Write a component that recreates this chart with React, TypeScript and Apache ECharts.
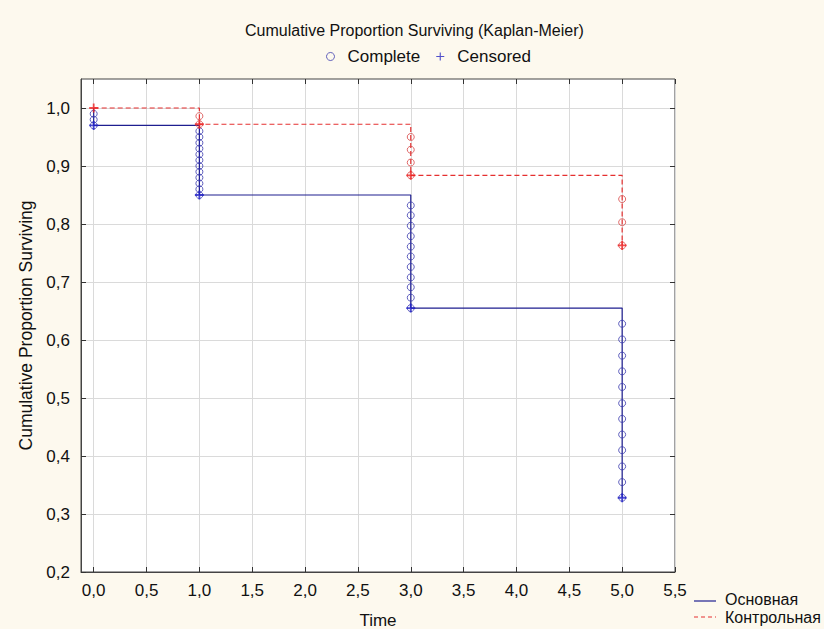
import React, { useEffect, useRef } from "react";
import * as echarts from "echarts";

// Axis ticks
const xTicks = [0, 0.5, 1, 1.5, 2, 2.5, 3, 3.5, 4, 4.5, 5, 5.5];
const yTicks = [0.2, 0.3, 0.4, 0.5, 0.6, 0.7, 0.8, 0.9, 1.0];

// Group names
const groupNames = ["Основная", "Контрольная"];

// Kaplan-Meier step curves (time, cumulative proportion surviving)
const mainStepTime = [0, 0, 1, 1, 3, 3, 5, 5];
const mainStepSurv = [1.0, 0.97, 0.97, 0.85, 0.85, 0.655, 0.655, 0.328];
const ctrlStepTime = [0, 1, 1, 3, 3, 5, 5];
const ctrlStepSurv = [1.0, 1.0, 0.972, 0.972, 0.884, 0.884, 0.763];

// Complete observations (circles), grouped by time
const mainCompleteT0 = [0.99, 0.98, 0.97];
const mainCompleteT1 = [0.96, 0.95, 0.94, 0.93, 0.92, 0.91, 0.9, 0.89, 0.88, 0.87, 0.86, 0.85];
const mainCompleteT3 = [0.832, 0.815, 0.797, 0.779, 0.761, 0.744, 0.726, 0.708, 0.691, 0.673, 0.655];
const mainCompleteT5 = [0.628, 0.601, 0.573, 0.546, 0.519, 0.491, 0.464, 0.437, 0.41, 0.382, 0.355, 0.328];
const ctrlCompleteT1 = [0.986, 0.972];
const ctrlCompleteT3 = [0.95, 0.928, 0.906, 0.884];
const ctrlCompleteT5 = [0.843, 0.803, 0.763];

// Censored observations (crosses)
const mainCensoredTime = [0, 1, 3, 5];
const mainCensoredSurv = [0.97, 0.85, 0.655, 0.328];
const ctrlCensoredTime = [0, 1, 3, 5];
const ctrlCensoredSurv = [1.0, 0.972, 0.884, 0.763];

const BLUE_LINE = "#1e1e90";
const BLUE_MARK = "#3a3aae";
const RED_LINE = "#e53030";
const RED_MARK = "#d84646";
const FONT = "Arial, 'Liberation Sans', sans-serif";
const PLUS = "path://M4,0H6V4H10V6H6V10H4V6H0V4H4Z";
const PLUS_THIN = "path://M4.3,0H5.7V4.3H10V5.7H5.7V10H4.3V5.7H0V4.3H4.3Z";

const zip = (xs: number[], ys: number[]) => xs.map((x, i) => [x, ys[i]]);
const at = (t: number, ys: number[]) => ys.map((y) => [t, y]);
const fmt = (v: number) => v.toFixed(1).replace(".", ",");

export default function App() {
  const ref = useRef<HTMLDivElement>(null);
  useEffect(() => {
    if (!ref.current) return;
    const chart = echarts.init(ref.current, null, { renderer: "svg" });
    const mainComplete = [
      ...at(0, mainCompleteT0),
      ...at(1, mainCompleteT1),
      ...at(3, mainCompleteT3),
      ...at(5, mainCompleteT5),
    ];
    const ctrlComplete = [
      ...at(1, ctrlCompleteT1),
      ...at(3, ctrlCompleteT3),
      ...at(5, ctrlCompleteT5),
    ];
    chart.setOption({
      animation: false,
      backgroundColor: "#fdf9ee",
      title: {
        text: "Cumulative Proportion Surviving (Kaplan-Meier)",
        left: 245,
        top: 22,
        padding: 0,
        textStyle: { fontFamily: FONT, fontSize: 16, fontWeight: "normal", color: "#111" },
      },
      legend: [
        {
          data: [
            {
              name: "Complete",
              icon: "circle",
              itemStyle: { color: "rgba(255,255,255,0)", borderColor: BLUE_MARK, borderWidth: 1 },
            },
            { name: "Censored", icon: PLUS_THIN, itemStyle: { color: "#2525c0" } },
          ],
          left: 326,
          top: 48,
          padding: 0,
          itemWidth: 8,
          itemHeight: 8,
          itemGap: 16,
          textStyle: { fontFamily: FONT, fontSize: 17, color: "#111", padding: [0, 0, 0, 8] },
          selectedMode: false,
        },
      ],
      graphic: [
        {
          type: "line",
          shape: { x1: 694, y1: 601, x2: 716, y2: 601 },
          style: { stroke: BLUE_LINE, lineWidth: 1.2 },
        },
        {
          type: "text",
          x: 725,
          y: 599,
          style: { text: groupNames[0], font: `16px ${FONT}`, fill: "#111", verticalAlign: "middle" },
        },
        {
          type: "line",
          shape: { x1: 694, y1: 617, x2: 716, y2: 617 },
          style: { stroke: RED_LINE, lineWidth: 1.2, lineDash: [4, 3] },
        },
        {
          type: "text",
          x: 725,
          y: 617,
          style: { text: groupNames[1], font: `16px ${FONT}`, fill: "#111", verticalAlign: "middle" },
        },
      ],
      grid: {
        left: 81,
        right: 149,
        top: 79,
        bottom: 57,
        containLabel: false,
        outerBoundsMode: "none",
        show: true,
        backgroundColor: "#ffffff",
        borderColor: "#444",
        borderWidth: 1,
      },
      xAxis: [
        {
          type: "value",
          min: -0.12,
          max: 5.5,
          name: "Time",
          nameLocation: "middle",
          nameGap: 40,
          nameTextStyle: { fontFamily: FONT, fontSize: 17, color: "#111" },
          axisLine: { show: true, onZero: false, lineStyle: { color: "#444" } },
          axisTick: { show: true, inside: true, length: 5, customValues: xTicks, lineStyle: { color: "#333" } },
          axisLabel: {
            customValues: xTicks,
            formatter: fmt,
            margin: 10,
            fontFamily: FONT,
            fontSize: 17,
            color: "#111",
          },
          splitLine: { show: true, lineStyle: { color: "#dadada", width: 1 } },
        },
        {
          type: "value",
          position: "top",
          min: -0.12,
          max: 5.5,
          axisLine: { show: false, onZero: false },
          axisTick: { show: true, inside: true, length: 5, customValues: xTicks, lineStyle: { color: "#333" } },
          axisLabel: { show: false },
          splitLine: { show: false },
        },
      ],
      yAxis: [
        {
          type: "value",
          min: 0.2,
          max: 1.05,
          name: "Cumulative Proportion Surviving",
          nameLocation: "middle",
          nameGap: 42,
          nameTextStyle: { fontFamily: FONT, fontSize: 17.5, color: "#111" },
          axisLine: { show: true, onZero: false, lineStyle: { color: "#444" } },
          axisTick: { show: true, inside: true, length: 5, customValues: yTicks, lineStyle: { color: "#333" } },
          axisLabel: {
            customValues: yTicks,
            formatter: fmt,
            margin: 11,
            fontFamily: FONT,
            fontSize: 17,
            color: "#111",
          },
          splitLine: { show: true, lineStyle: { color: "#dadada", width: 1 } },
        },
        {
          type: "value",
          position: "right",
          min: 0.2,
          max: 1.05,
          axisLine: { show: false, onZero: false },
          axisTick: { show: true, inside: true, length: 5, customValues: yTicks, lineStyle: { color: "#333" } },
          axisLabel: { show: false },
          splitLine: { show: false },
        },
      ],
      series: [
        {
          name: groupNames[0],
          type: "line",
          data: zip(mainStepTime, mainStepSurv),
          symbol: "none",
          lineStyle: { color: BLUE_LINE, width: 1.2, type: "solid" },
          itemStyle: { color: BLUE_LINE },
          z: 2,
        },
        {
          name: groupNames[1],
          type: "line",
          data: zip(ctrlStepTime, ctrlStepSurv),
          symbol: "none",
          lineStyle: { color: RED_LINE, width: 1.2, type: [5, 3] },
          itemStyle: { color: RED_LINE },
          z: 2,
        },
        {
          name: "Complete",
          type: "scatter",
          data: mainComplete,
          symbol: "circle",
          symbolSize: 7,
          itemStyle: { color: "rgba(255,255,255,0)", borderColor: BLUE_MARK, borderWidth: 1 },
          z: 3,
        },
        {
          name: "Complete (control)",
          type: "scatter",
          data: ctrlComplete,
          symbol: "circle",
          symbolSize: 7,
          itemStyle: { color: "rgba(255,255,255,0)", borderColor: RED_MARK, borderWidth: 1 },
          z: 3,
        },
        {
          name: "Censored",
          type: "scatter",
          data: zip(mainCensoredTime, mainCensoredSurv),
          symbol: PLUS,
          symbolSize: 9,
          itemStyle: { color: "#2020c8" },
          z: 4,
        },
        {
          name: "Censored (control)",
          type: "scatter",
          data: zip(ctrlCensoredTime, ctrlCensoredSurv),
          symbol: PLUS,
          symbolSize: 9,
          itemStyle: { color: "#ee2222" },
          z: 4,
        },
      ],
    });
    return () => chart.dispose();
  }, []);
  return (
    <div
      ref={ref}
      style={{ position: "absolute", left: 0, top: 0, width: 824, height: 629 }}
    />
  );
}
